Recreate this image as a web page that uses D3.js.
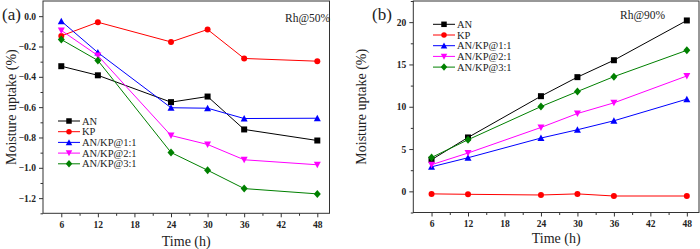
<!DOCTYPE html>
<html>
<head>
<meta charset="utf-8">
<script src="https://cdn.jsdelivr.net/npm/d3@7"></script>
<style>
body { margin: 0; background: #fff; }
svg { display: block; }
text { font-family: "Liberation Serif", "Times New Roman", serif; }
.tick text { font-weight: bold; font-size: 9.5px; }
</style>
</head>
<body>
<svg id="chart" width="700" height="249"></svg>
<script>
// time points (h)
var times = [6, 12, 24, 30, 36, 48];
var seriesNames = ["AN", "KP", "AN/KP@1:1", "AN/KP@2:1", "AN/KP@3:1"];
var colors = ["#000000", "#ff0000", "#0000ff", "#ff00ff", "#008000"];
var symbols = ["square", "circle", "up", "down", "diamond"];

// Rh@50%
var an50 = [-0.33, -0.39, -0.567, -0.53, -0.747, -0.82];
var kp50 = [-0.13, -0.04, -0.17, -0.088, -0.279, -0.297];
var r11_50 = [-0.033, -0.24, -0.604, -0.607, -0.675, -0.673];
var r21_50 = [-0.094, -0.26, -0.787, -0.846, -0.947, -0.98];
var r31_50 = [-0.154, -0.292, -0.899, -1.016, -1.137, -1.172];

// Rh@90%
var an90 = [3.74, 6.37, 11.25, 13.5, 15.5, 20.2];
var kp90 = [-0.3, -0.35, -0.43, -0.3, -0.55, -0.55];
var r11_90 = [2.9, 3.97, 6.3, 7.28, 8.34, 10.9];
var r21_90 = [3.15, 4.53, 7.55, 9.2, 10.46, 13.64];
var r31_90 = [4.0, 6.1, 10.02, 11.8, 13.56, 16.67];

var xTicks = [6, 12, 18, 24, 30, 36, 42, 48];
var yTicks50 = [0.0, -0.2, -0.4, -0.6, -0.8, -1.0, -1.2];
var yTicks90 = [0, 5, 10, 15, 20];

var svg = d3.select("#chart");
var serif = "'Liberation Serif', 'Times New Roman', serif";

function symbolPath(kind, s) {
    var h = s / 2;
    if (kind == "square") return "M" + (-h) + "," + (-h) + "h" + s + "v" + s + "h" + (-s) + "Z";
    if (kind == "circle") return d3.symbol(d3.symbolCircle, Math.PI * h * h)();
    if (kind == "up") return "M0," + (-h - 0.5) + "L" + (h + 0.5) + "," + (h) + "L" + (-h - 0.5) + "," + (h) + "Z";
    if (kind == "down") return "M0," + (h + 0.5) + "L" + (h + 0.5) + "," + (-h) + "L" + (-h - 0.5) + "," + (-h) + "Z";
    return "M0," + (-h - 1) + "L" + (h + 0.5) + ",0L0," + (h + 1) + "L" + (-h - 0.5) + ",0Z";
}

function drawPanel(o) {
    var g = svg.append("g");
    var x = d3.scaleLinear().domain([3, 50]).range([o.left, o.right]);
    var y = d3.scaleLinear().domain(o.yDomain).range([o.bottom, o.top]);

    // frame
    g.append("rect")
        .attr("x", o.left).attr("y", o.top)
        .attr("width", o.right - o.left).attr("height", o.bottom - o.top)
        .attr("fill", "none").attr("stroke", "#333").attr("stroke-width", 1);

    // minor ticks
    g.append("g").attr("transform", "translate(0," + o.bottom + ")")
        .call(d3.axisBottom(x).tickValues(d3.range(9, 48, 6)).tickSize(2.5).tickFormat(""))
        .call(a => a.select(".domain").remove());
    g.append("g").attr("transform", "translate(" + o.left + ",0)")
        .call(d3.axisLeft(y).tickValues(o.minor).tickSize(2.5).tickFormat(""))
        .call(a => a.select(".domain").remove());

    // major axes
    g.append("g").attr("transform", "translate(0," + o.bottom + ")")
        .call(d3.axisBottom(x).tickValues(xTicks).tickSize(4).tickPadding(4))
        .call(a => a.select(".domain").remove());
    g.append("g").attr("transform", "translate(" + o.left + ",0)")
        .call(d3.axisLeft(y).tickValues(o.yTicks).tickSize(4).tickPadding(3).tickFormat(o.fmt))
        .call(a => a.select(".domain").remove());
    g.selectAll("g").attr("font-family", serif);
    g.selectAll(".tick line").attr("stroke", "#333");
    g.selectAll(".tick text").attr("fill", "#222");

    // series
    o.data.forEach(function(vals, i) {
        var pts = times.map((t, j) => [x(t), y(vals[j])]);
        g.append("path")
            .attr("d", d3.line()(pts))
            .attr("fill", "none").attr("stroke", colors[i]).attr("stroke-width", 1);
        g.selectAll(".m" + i).data(pts).enter().append("path")
            .attr("transform", d => "translate(" + d[0] + "," + d[1] + ")")
            .attr("d", symbolPath(symbols[i], 6))
            .attr("fill", colors[i]);
    });

    // legend
    seriesNames.forEach(function(n, i) {
        var ly = o.legY + i * 10.7;
        g.append("line")
            .attr("x1", o.legX).attr("x2", o.legX + 22)
            .attr("y1", ly).attr("y2", ly)
            .attr("stroke", colors[i]).attr("stroke-width", 1);
        g.append("path")
            .attr("transform", "translate(" + (o.legX + 11) + "," + ly + ")")
            .attr("d", symbolPath(symbols[i], 5.5))
            .attr("fill", colors[i]);
        g.append("text")
            .attr("x", o.legX + 24).attr("y", ly + 3.5)
            .attr("font-size", "10.5px").attr("fill", "#222")
            .text(n);
    });

    // labels
    g.append("text")
        .attr("x", o.rhX).attr("y", o.rhY)
        .attr("font-size", "11.5px").attr("fill", "#222")
        .text(o.rh);
    g.append("text")
        .attr("x", o.tagX).attr("y", 20)
        .attr("font-size", "17px").attr("fill", "#222")
        .text(o.tag);
    g.append("text")
        .attr("transform", "translate(" + o.yTitleX + "," + ((o.top + o.bottom) / 2) + ") rotate(-90)")
        .attr("text-anchor", "middle")
        .attr("font-size", "14px").attr("fill", "#222")
        .text("Moisture uptake (%)");
    g.append("text")
        .attr("x", (o.left + o.right) / 2).attr("y", o.xTitleY)
        .attr("text-anchor", "middle")
        .attr("font-size", "14px").attr("fill", "#222")
        .text("Time (h)");
}

drawPanel({
    left: 43, right: 329.5, top: 1, bottom: 213.3,
    yDomain: [-1.3, 0.1], yTicks: yTicks50, minor: d3.range(-13, 1, 2).map(v => v / 10),
    fmt: d3.format(".1f"),
    data: [an50, kp50, r11_50, r21_50, r31_50],
    legX: 58, legY: 121,
    rh: "Rh@50%", rhX: 285, rhY: 22,
    tag: "(a)", tagX: 2,
    yTitleX: 16, xTitleY: 246
});

drawPanel({
    left: 413.3, right: 699, top: 1, bottom: 212.5,
    yDomain: [-2.5, 22.5], yTicks: yTicks90, minor: [-2.5, 2.5, 7.5, 12.5, 17.5, 22.5],
    fmt: d3.format("d"),
    data: [an90, kp90, r11_90, r21_90, r31_90],
    legX: 433, legY: 24.3,
    rh: "Rh@90%", rhX: 620, rhY: 19,
    tag: "(b)", tagX: 372,
    yTitleX: 366, xTitleY: 243
});
</script>
</body>
</html>
